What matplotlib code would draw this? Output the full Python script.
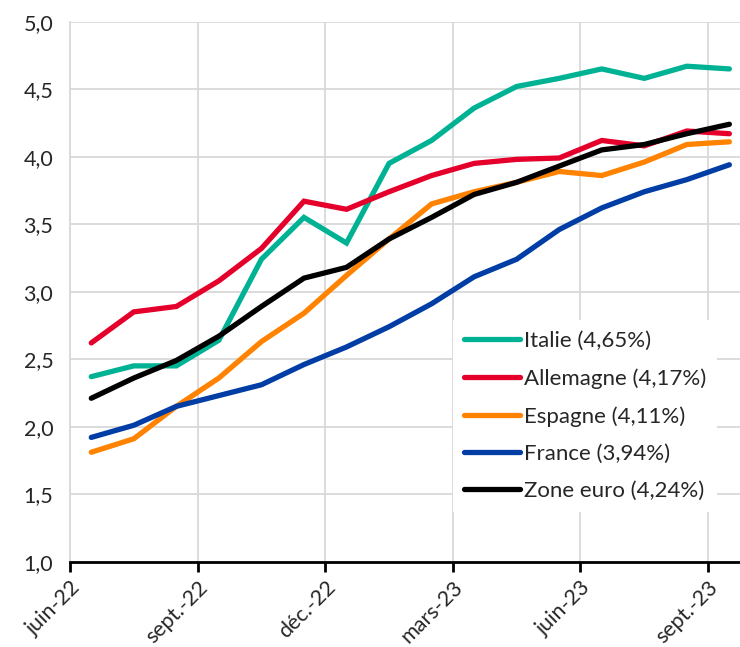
import numpy as np
import matplotlib
matplotlib.use("Agg")
from matplotlib import pyplot as plt

# mois de juin-22 a sept.-23
mois = ["juin-22", "juil.-22", "août-22", "sept.-22", "oct.-22", "nov.-22", "déc.-22",
        "janv.-23", "févr.-23", "mars-23", "avr.-23", "mai-23", "juin-23", "juil.-23",
        "août-23", "sept.-23"]
tick_labels = ["juin-22", "sept.-22", "déc.-22", "mars-23", "juin-23", "sept.-23"]

italie = [2.37, 2.45, 2.45, 2.64, 3.24, 3.55, 3.36, 3.95, 4.12, 4.36, 4.52, 4.58, 4.65, 4.58, 4.67, 4.65]
allemagne = [2.62, 2.85, 2.89, 3.08, 3.32, 3.67, 3.61, 3.74, 3.86, 3.95, 3.98, 3.99, 4.12, 4.08, 4.19, 4.17]
espagne = [1.81, 1.91, 2.15, 2.36, 2.63, 2.84, 3.12, 3.39, 3.65, 3.74, 3.81, 3.89, 3.86, 3.96, 4.09, 4.11]
france = [1.92, 2.01, 2.15, 2.23, 2.31, 2.46, 2.59, 2.74, 2.91, 3.11, 3.24, 3.46, 3.62, 3.74, 3.83, 3.94]
zone_euro = [2.21, 2.36, 2.49, 2.67, 2.89, 3.10, 3.18, 3.39, 3.55, 3.72, 3.81, 3.93, 4.05, 4.09, 4.17, 4.24]

series = [
    ("Italie (4,65%)", italie, "#00B294"),
    ("Allemagne (4,17%)", allemagne, "#E4002B"),
    ("Espagne (4,11%)", espagne, "#FF8200"),
    ("France (3,94%)", france, "#003DA5"),
    ("Zone euro (4,24%)", zone_euro, "#000000"),
]

plt.rcParams["font.family"] = ["Lato", "DejaVu Sans"]

fig = plt.figure(figsize=(7.4, 6.47), dpi=100)
ax = fig.add_axes([0.0946, 0.132, 0.9054, 0.8345])

x = np.arange(len(mois))
for nom, vals, col in series:
    ax.plot(x, vals, color=col, lw=3.8, label=nom, solid_capstyle="round", solid_joinstyle="miter")

ax.set_ylim(1.0, 5.0)
ax.set_xlim(-0.5, 15.25)
yt = np.arange(1.0, 5.01, 0.5)
ax.set_yticks(yt)
ax.set_yticklabels([f"{v:.1f}".replace(".", ",") for v in yt], fontsize=15.5, color="#262626")
ax.set_xticks(np.arange(0, 16, 3) - 0.5)
ax.set_xticklabels(tick_labels, rotation=45, ha="right", va="top", rotation_mode="anchor",
                   fontsize=15.5, color="#262626")

ax.grid(True, color="#d9d9d9", lw=1.3)
ax.set_axisbelow(True)
for s in ["top", "right"]:
    ax.spines[s].set_visible(False)
ax.spines["left"].set_color("#d9d9d9")
ax.spines["left"].set_linewidth(1.3)
ax.spines["bottom"].set_color("black")
ax.spines["bottom"].set_linewidth(2)
ax.tick_params(axis="y", length=0, pad=12)
ax.tick_params(axis="x", length=7, width=2, color="black", pad=4)

leg = ax.legend(loc="upper left", bbox_to_anchor=(0.612, 0.506), bbox_transform=fig.transFigure,
                fontsize=16, frameon=True, fancybox=False, edgecolor="none", facecolor="white",
                framealpha=1, handlelength=2.5, handletextpad=0.18, labelspacing=0.78,
                borderpad=0.5, borderaxespad=0)
for t in leg.get_texts():
    t.set_color("#262626")

fig.savefig("out.png", dpi=100)
